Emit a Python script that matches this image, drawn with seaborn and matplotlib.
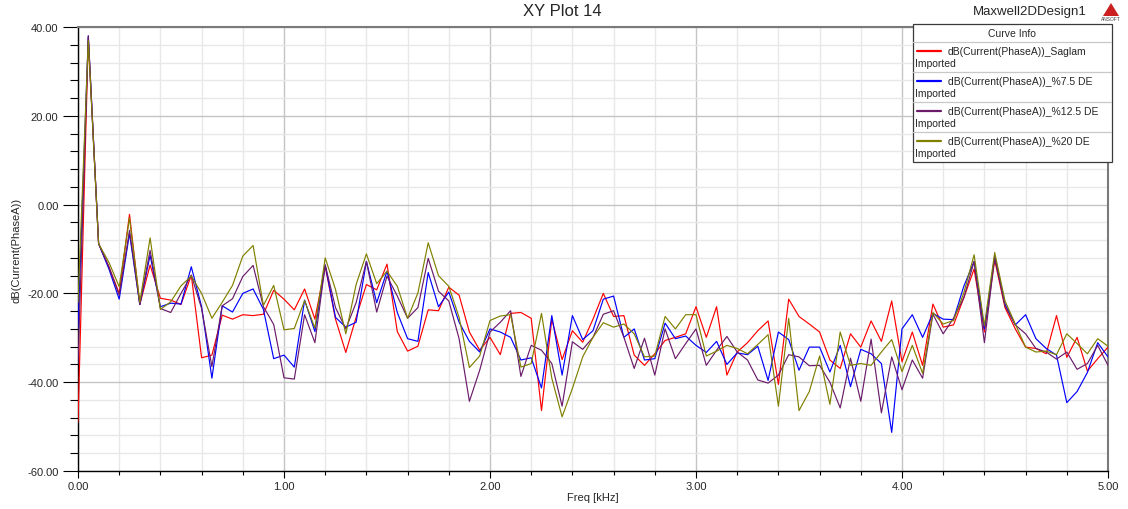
import numpy as np
import pandas as pd
import matplotlib
matplotlib.use("Agg")
import matplotlib.pyplot as plt
from matplotlib.ticker import MultipleLocator, FormatStrFormatter
from matplotlib.patches import Rectangle, Polygon
from matplotlib.lines import Line2D
import seaborn as sns

# ---------------- data ----------------
freq_khz = np.round(np.arange(101) * 0.05, 2)

saglam = [-49, 37.5, -8.8, -14, -20, -2.2, -22.5, -13.6, -21.1, -21.5,
          -22.5, -15.9, -34.5, -33.9, -24.9, -25.8, -24.8, -25, -24.7, -19.3,
          -21.3, -23.7, -19, -25.8, -13.9, -25.8, -33.3, -25.4, -18, -19.2,
          -13.4, -28.6, -33, -31.9, -23.7, -23.9, -18.6, -20.4, -28.7, -32.8,
          -29.9, -33.8, -24.5, -24.3, -25.6, -46.4, -25.8, -34.9, -28.4, -31,
          -25.8, -20, -25.2, -25, -33.9, -36.2, -33.6, -30.6, -29.9, -29.1,
          -23, -29.9, -23, -38.4, -33.2, -31.1, -28.4, -26.2, -40.5, -21.3,
          -25.2, -26.9, -28.7, -35, -36.9, -29.1, -32.1, -26.2, -30.8, -21.7,
          -35.4, -28.7, -36.2, -22.4, -27.6, -27.1, -21, -14.5, -28.7, -12.5,
          -23.2, -28, -32.1, -32.4, -33.6, -25, -34.4, -29.9, -37.5, -34.7,
          -32.1]

de_7_5 = [-28, 38, -8.8, -14.5, -21.3, -6.5, -22.5, -11.4, -23, -22.2,
          -22.4, -14, -23, -39.1, -22.8, -24.2, -20, -19, -23.6, -34.7,
          -33.9, -36.6, -21.5, -28.6, -13.6, -25.4, -27.6, -26.5, -12.8, -22.1,
          -15, -24.3, -30.2, -30.8, -15.3, -23, -19.7, -26.5, -30.8, -33.2,
          -28, -28.7, -29.9, -35, -34.5, -41.3, -25, -38.4, -25, -30.4,
          -28.4, -21.3, -20.6, -29.9, -28, -35, -34.7, -26.7, -30.2, -29.6,
          -31.7, -33.3, -30.8, -36, -33.4, -33.8, -31.9, -39.6, -28.7, -30.4,
          -37.3, -32.1, -32.1, -37.7, -31.7, -41, -32.6, -33.6, -35.8, -51.3,
          -28, -24.8, -29.9, -24.5, -25.8, -25.9, -18.4, -12.8, -28, -11.6,
          -22.4, -27.1, -24.8, -30.2, -32.4, -33.9, -44.6, -42.1, -37.8, -31.1,
          -34.3]

de_12_5 = [-36, 38, -8.8, -14, -20.4, -5.8, -22.5, -10.3, -23.4, -24.3,
           -20, -15.9, -23.4, -36.5, -22.8, -21.2, -16.2, -13.7, -23, -27,
           -39, -39.3, -24.8, -31.1, -13.6, -23.2, -28, -22.1, -12.8, -24.2,
           -16.1, -20.6, -25.6, -23.2, -12.1, -19.5, -21.7, -30.2, -44.3, -37.3,
           -28.7, -26.5, -23.9, -38.7, -31.7, -32.8, -35.8, -45.4, -30.9, -32.6,
           -29.9, -24.7, -23.9, -29.9, -36.9, -30.1, -38.4, -28, -34.7, -31.3,
           -28, -36.2, -32.8, -29.7, -33.2, -35, -39.5, -40.2, -38.4, -33.8,
           -34.3, -36.3, -36.2, -40, -45.8, -34.6, -44.3, -30.3, -46.9, -34.3,
           -41.7, -35, -39.1, -24.7, -29.1, -25.6, -21, -12.8, -31.1, -11.8,
           -22.8, -27.1, -29.1, -32.4, -33.2, -34.8, -33.2, -37.1, -35.8, -31.7,
           -36.2]

de_20 = [-22, 37, -8.8, -13, -18.5, -3, -22, -7.5, -23.6, -21.9,
         -18.3, -16.1, -20, -25.6, -22, -18.2, -11.6, -9.2, -22.7, -18.2,
         -28.2, -27.9, -21.6, -27.8, -12, -19.1, -29.1, -18, -11.1, -17.8,
         -15, -18.4, -25.6, -19.9, -8.6, -16, -18.4, -25.4, -36.7, -34.1,
         -26.1, -25.1, -24.8, -36.6, -35.8, -24.5, -39.1, -47.8, -41.4, -34.3,
         -29.9, -26.6, -27.6, -26.9, -29.1, -34.3, -34.1, -25.2, -28, -24.8,
         -24.8, -34.1, -33, -31.7, -32.4, -33.6, -31.5, -29.3, -45.4, -25.6,
         -46.4, -42.1, -34.1, -45, -28.7, -36.2, -35.8, -36.2, -33.2, -30.4,
         -37.6, -31.7, -38, -24.3, -26.9, -26.1, -19.9, -11.3, -27.3, -10.8,
         -21.7, -26.9, -32.1, -33.2, -33, -33.8, -29.1, -31.3, -33.6, -30.2,
         -31.9]

curve_names = ["dB(Current(PhaseA))_Saglam",
               "dB(Current(PhaseA))_%7.5 DE",
               "dB(Current(PhaseA))_%12.5 DE",
               "dB(Current(PhaseA))_%20 DE"]
curve_values = [saglam, de_7_5, de_12_5, de_20]
curve_colors = ["#ff0000", "#0000ff", "#6a1b6a", "#808000"]

x_ticks = [0.0, 1.0, 2.0, 3.0, 4.0, 5.0]
y_ticks = [-60, -40, -20, 0, 20, 40]

# ---------------- style ----------------
sns.set_theme(style="white")
plt.rcParams["font.family"] = ["Liberation Sans", "DejaVu Sans"]

W, H = 1128, 510
fig = plt.figure(figsize=(W / 100, H / 100), dpi=100)


def fx(x):
    return x / W


def fy(y):
    return 1 - y / H


ax = fig.add_axes([fx(78), fy(472), (1108 - 78) / W, (472 - 28) / H])

frames = []
for name, vals in zip(curve_names, curve_values):
    frames.append(pd.DataFrame({"Freq": freq_khz, "dB": vals, "Curve": name}))
df = pd.concat(frames, ignore_index=True)

sns.lineplot(data=df, x="Freq", y="dB", hue="Curve", hue_order=curve_names,
             palette=dict(zip(curve_names, curve_colors)), estimator=None,
             sort=False, linewidth=0.85, legend=False, ax=ax, zorder=3)

ax.set_xlim(0, 5)
ax.set_ylim(-60, 40)
ax.set_xticks(x_ticks)
ax.set_yticks(y_ticks)
ax.xaxis.set_minor_locator(MultipleLocator(0.2))
ax.yaxis.set_minor_locator(MultipleLocator(4))
ax.xaxis.set_major_formatter(FormatStrFormatter("%.2f"))
ax.yaxis.set_major_formatter(FormatStrFormatter("%.2f"))

ax.set_axisbelow(True)
ax.grid(which="minor", color="#e8e8e8", linewidth=1.0)
ax.grid(which="major", color="#c4c4c4", linewidth=1.0)

ax.tick_params(axis="y", which="major", direction="out", length=11, width=0.8,
               color="black", labelsize=8, pad=3, left=True)
ax.tick_params(axis="y", which="minor", direction="out", length=6, width=0.8,
               color="black", left=True)
ax.tick_params(axis="x", which="major", direction="out", length=5, width=0.8,
               color="black", labelsize=8, pad=2, bottom=True)
ax.tick_params(axis="x", which="minor", direction="out", length=3, width=0.8,
               color="black", bottom=True)

for side in ["left", "bottom"]:
    ax.spines[side].set_color("black")
    ax.spines[side].set_linewidth(1.0)
for side in ["top", "right"]:
    ax.spines[side].set_color("#7a7a7a")
    ax.spines[side].set_linewidth(1.5)

ax.set_xlabel("Freq [kHz]", fontsize=8, labelpad=1)
ax.set_ylabel("dB(Current(PhaseA))", fontsize=8, labelpad=4)

# ---------------- titles ----------------
fig.text(fx(562), fy(12), "XY Plot 14", ha="center", va="center", fontsize=12)
fig.text(fx(1030), fy(12), "Maxwell2DDesign1", ha="center", va="center", fontsize=9.5)

# Ansoft logo
fig.add_artist(Polygon([(fx(1103), fy(17)), (fx(1111), fy(4)), (fx(1119), fy(17))],
                       closed=True, transform=fig.transFigure, facecolor="#cc2020",
                       edgecolor="none", zorder=10))
fig.text(fx(1111), fy(19.5), "ANSOFT", ha="center", va="center", fontsize=3.5,
         color="#404040")

# ---------------- legend (Curve Info box) ----------------
box_l, box_r, box_t, box_b = 912.5, 1111.5, 24.5, 162.5
fig.add_artist(Rectangle((fx(box_l), fy(box_b)), (box_r - box_l) / W, (box_b - box_t) / H,
                         transform=fig.transFigure, facecolor="white",
                         edgecolor="#3a3a3a", linewidth=0.9, zorder=20))
fig.text(fx((box_l + box_r) / 2), fy(34), "Curve Info", ha="center", va="center",
         fontsize=7.5, zorder=21)
for sep in [43, 73, 103, 133]:
    fig.add_artist(Line2D([fx(box_l + 0.5), fx(box_r - 0.5)], [fy(sep), fy(sep)],
                          transform=fig.transFigure, color="#c8c8c8", linewidth=0.9,
                          zorder=21))
for k, (name, col) in enumerate(zip(curve_names, curve_colors)):
    yl = 52 + 30 * k
    fig.add_artist(Line2D([fx(917), fx(941)], [fy(yl), fy(yl)],
                          transform=fig.transFigure, color=col, linewidth=1.6, zorder=22))
    fig.text(fx(948), fy(yl), name, ha="left", va="center", fontsize=7.5, zorder=22)
    fig.text(fx(915.5), fy(yl + 12), "Imported", ha="left", va="center", fontsize=7.5,
             zorder=22)

fig.savefig("out.png", dpi=100)
